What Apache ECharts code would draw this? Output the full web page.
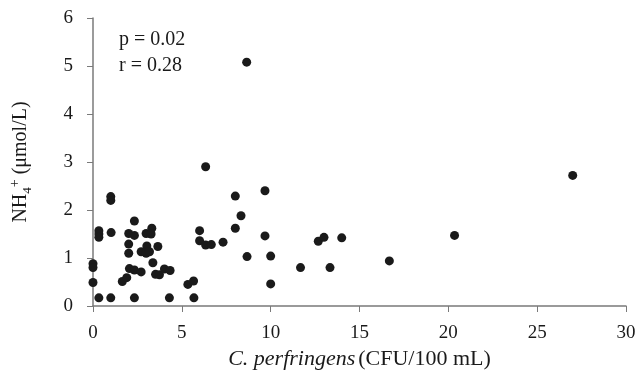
<!DOCTYPE html>
<html>
<head>
<meta charset="utf-8">
<script src="https://cdn.jsdelivr.net/npm/echarts@6/dist/echarts.min.js"></script>
<style>
  html, body { margin: 0; padding: 0; background: #fff; }
  #chart { width: 638px; height: 379px; }
</style>
</head>
<body>
<div id="chart"></div>
<script>
// C. perfringens (CFU/100 mL) vs NH4+ (umol/L)
const cpValues = [
  0, 0, 0,
  0.33, 0.33, 0.33, 0.33,
  1.0, 1.0, 1.02, 1.0,
  1.65, 1.9,
  2.01, 2.01, 2.01, 2.05,
  2.33, 2.33, 2.33, 2.33,
  2.71, 2.71, 2.99, 2.99, 3.03, 3.18,
  3.31, 3.27, 3.37, 3.52, 3.74, 3.65,
  4.02, 4.34, 4.3,
  5.34, 5.66, 5.68,
  6.0, 6.0, 6.34, 6.66, 7.32, 6.34,
  8.01, 8.33, 8.01, 8.67, 8.65,
  9.68, 9.68, 10.0, 10.0,
  11.68, 12.68, 13.0, 13.34, 14.0,
  16.68, 20.35, 27.0
];
const nh4Values = [
  0.88, 0.8, 0.49,
  1.57, 1.5, 1.43, 0.17,
  2.28, 2.2, 1.53, 0.17,
  0.51, 0.59,
  1.51, 1.29, 1.1, 0.78,
  1.77, 1.47, 0.75, 0.17,
  1.13, 0.71, 1.51, 1.1, 1.25, 1.13,
  1.62, 1.5, 0.9, 0.66, 0.65, 1.24,
  0.77, 0.74, 0.17,
  0.45, 0.52, 0.17,
  1.57, 1.36, 1.27, 1.28, 1.33, 2.9,
  2.29, 1.88, 1.62, 1.03, 5.08,
  2.4, 1.46, 1.04, 0.46,
  0.8, 1.35, 1.43, 0.8, 1.42,
  0.94, 1.47, 2.72
];
const statLines = ['p = 0.02', 'r = 0.28'];

const points = cpValues.map((x, i) => [x, nh4Values[i]]);
const font = 'Liberation Serif';
const axisGray = '#7a7a7a';
const ink = '#1a1a1a';

const myChart = echarts.init(document.getElementById('chart'));
myChart.setOption({
  animation: false,
  textStyle: { fontFamily: font },
  grid: { left: 93, right: 12, top: 18, bottom: 73, containLabel: false, outerBoundsMode: 'none' },
  xAxis: {
    type: 'value',
    min: 0,
    max: 30,
    interval: 5,
    splitLine: { show: false },
    axisLine: { lineStyle: { color: axisGray, width: 1.5 } },
    axisTick: { length: 6, lineStyle: { color: axisGray } },
    axisLabel: { fontSize: 19, color: ink, fontFamily: font, margin: 18 },
    name: '{i|C. perfringens} {n|(CFU/100 mL)}',
    nameLocation: 'middle',
    nameGap: 41,
    nameTextStyle: {
      rich: {
        i: { fontSize: 22, fontStyle: 'italic', fontFamily: font, color: ink },
        n: { fontSize: 22, fontFamily: font, color: ink }
      }
    }
  },
  yAxis: {
    type: 'value',
    min: 0,
    max: 6,
    interval: 1,
    splitLine: { show: false },
    axisLine: { show: true, lineStyle: { color: axisGray, width: 1.5 } },
    axisTick: { show: true, length: 6, lineStyle: { color: axisGray } },
    axisLabel: { fontSize: 19, color: ink, fontFamily: font, margin: 20 },
    name: '{n|NH}{sub|4}{sup|+}{n| (μmol/L)}',
    nameLocation: 'middle',
    nameGap: 59,
    nameTextStyle: {
      rich: {
        n: { fontSize: 20, fontFamily: font, color: ink, lineHeight: 26 },
        sub: { fontSize: 13, fontFamily: font, color: ink, verticalAlign: 'bottom', lineHeight: 26, padding: [8, 0, 0, 0] },
        sup: { fontSize: 14, fontFamily: font, color: ink, verticalAlign: 'top', lineHeight: 26, padding: [0, 0, 10, 0] }
      }
    }
  },
  graphic: [
    {
      type: 'text',
      left: 119,
      top: 27,
      style: {
        text: statLines.join('\n'),
        font: '20px "Liberation Serif"',
        fill: ink,
        lineHeight: 26
      }
    }
  ],
  series: [
    {
      type: 'scatter',
      data: points,
      symbolSize: 9,
      itemStyle: { color: ink, opacity: 1 }
    }
  ]
});
</script>
</body>
</html>
